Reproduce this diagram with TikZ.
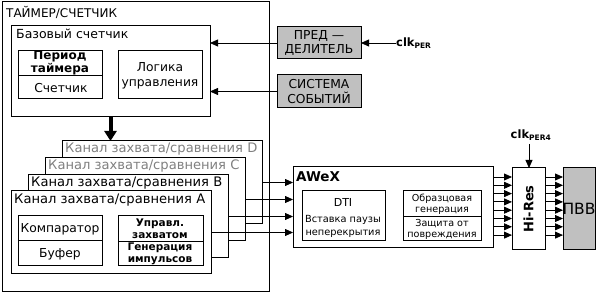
\documentclass[tikz,border=0pt]{standalone}
\usepackage{fontspec}
\setmainfont{DejaVu Sans}
\usetikzlibrary{arrows.meta}
\definecolor{boxgray}{HTML}{C0C0C0}
\definecolor{txtgray}{HTML}{808080}
\newcommand\myfs[2]{\fontsize{#1}{#2}\selectfont}
\begin{document}
\begin{tikzpicture}[x=1pt,y=-1pt,
  box/.style={draw, line width=1pt, anchor=north west, inner sep=0pt, outer sep=0pt, fill=white},
  gbox/.style={box, fill=boxgray},
  lbl/.style={anchor=base west, inner sep=0pt, font=\myfs{12.5}{13}},
  chl/.style={lbl, font=\myfs{13.1}{14}},
  ctext/.style={inner sep=0pt, align=center, font=\myfs{12.3}{13}},
  stext/.style={inner sep=0pt, align=center, font=\myfs{9.6}{11}},
  arr/.style={-{Triangle[length=8pt,width=7pt]}, line width=0.8pt},
  bigarr/.style={-{Triangle[length=10pt,width=12pt]}, line width=4pt}]
\useasboundingbox (0,0) rectangle (598,294);
% outer
\node[box, minimum width=267pt, minimum height=290pt] (outer) at (2,2) {};
\node[lbl, font=\myfs{12}{13}] (ttl) at (6,17.5) {ТАЙМЕР/СЧЕТЧИК};
% base counter
\node[box, minimum width=199pt, minimum height=91pt] (base) at (11,26) {};
\node[lbl] (basel) at (16,38.5) {Базовый счетчик};
\node[box, minimum width=84pt, minimum height=48pt] (per) at (18,51) {};
\draw[line width=1pt] (per.west |- 0,76) -- (per.east |- 0,76);
\node[ctext, font=\bfseries\myfs{12}{10.5}] (perl) at (60,63) {Период\\таймера};
\node[ctext] (cnt) at (61,88) {Счетчик};
\node[box, minimum width=84pt, minimum height=48pt] (logic) at (118,51) {};
\node[ctext, font=\myfs{12.3}{15}] (logl) at (160,76) {Логика\\управления};
% prescaler, event system
\node[gbox, minimum width=84pt, minimum height=32pt] (pred) at (277,27) {};
\node[ctext, font=\myfs{12.3}{13.5}] at (pred.center) {ПРЕД —\\ДЕЛИТЕЛЬ};
\node[gbox, minimum width=84pt, minimum height=33pt] (sys) at (277,75) {};
\node[ctext, font=\myfs{12.3}{15}] at (sys.center) {СИСТЕМА\\СОБЫТИЙ};
\node[anchor=west, inner sep=0pt, font=\bfseries\myfs{11.5}{12}] (clk) at (396,43) {clk\textsubscript{\myfs{7.5}{8}PER}};
\draw[arr] (clk.west) -- (clk.west -| pred.east);
\draw[arr] (pred.west) -- (pred.west -| base.east);
\draw[arr] (sys.west) -- (sys.west -| base.east);
% channels
\node[box, minimum width=200pt, minimum height=83pt] (D) at (62,141) {};
\node[chl, text=txtgray] at (65,153) {Канал захвата/сравнения D};
\node[box, minimum width=200pt, minimum height=83pt] (C) at (45,158) {};
\node[chl, text=txtgray] at (48,170) {Канал захвата/сравнения C};
\node[box, minimum width=200pt, minimum height=83pt] (B) at (28,175) {};
\node[chl] at (31,187) {Канал захвата/сравнения B};
\node[box, minimum width=200pt, minimum height=83pt] (A) at (11,191) {};
\node[chl] at (14,203.5) {Канал захвата/сравнения A};
\node[box, minimum width=84pt, minimum height=50pt] (comp) at (18,216) {};
\draw[line width=1pt] (comp.west |- 0,241) -- (comp.east |- 0,241);
\node[ctext] at (60,229) {Компаратор};
\node[ctext] at (60,254) {Буфер};
\node[box, minimum width=85pt, minimum height=50pt] (upr) at (118,216) {};
\draw[line width=1pt] (upr.west |- 0,242) -- (upr.east |- 0,242);
\node[stext, font=\bfseries\myfs{10.5}{12}] at (160,229) {Управл.\\захватом};
\node[stext, font=\bfseries\myfs{10.5}{12}] at (160,254) {Генерация\\импульсов};
\draw[bigarr] (base.south) -- (base.south |- D.north);
% AWeX
\node[box, minimum width=200pt, minimum height=81pt] (awex) at (293,167) {};
\node[lbl, font=\bfseries\myfs{13.5}{14}] at (296,182) {AWeX};
\node[box, minimum width=83pt, minimum height=50pt] (dti) at (302,191) {};
\node[stext, font=\myfs{11}{12}] at (343,202) {DTI};
\node[stext, font=\myfs{9.8}{13}] at (343,226) {Вставка паузы\\неперекрытия};
\node[box, minimum width=78pt, minimum height=50pt] (obr) at (403,191) {};
\draw[line width=1pt] (obr.west |- 0,217) -- (obr.east |- 0,217);
\node[stext] at (442,204) {Образцовая\\генерация};
\node[stext] at (442,229) {Защита от\\повреждения};
\foreach \n in {A,B,C,D} \draw[arr] (\n.east) -- (\n.east -| awex.west);
% Hi-Res, PVV
\node[box, minimum width=33pt, minimum height=82pt] (hires) at (512,168) {};
\node[inner sep=0pt, rotate=90, font=\bfseries\myfs{13}{14}] at (hires.center) {Hi-Res};
\node[gbox, minimum width=32pt, minimum height=82pt] (pvv) at (563,168) {};
\node[inner sep=0pt, font=\myfs{15.5}{16}] at (pvv.center) {ПВВ};
\node[anchor=south, inner sep=0pt, font=\bfseries\myfs{11.5}{12}] (clk4) at (531,141) {clk\textsubscript{\myfs{7.5}{8}PER4}};
\draw[arr] (529,144) coordinate (c4) -- (c4 |- hires.north);
\foreach \k in {0,...,7} {
  \draw[arr] (awex.east |- 0,{177+\k*8.3}) -- (hires.west |- 0,{177+\k*8.3});
  \draw[arr] (hires.east |- 0,{177+\k*8.3}) -- (pvv.west |- 0,{177+\k*8.3});
}
\end{tikzpicture}
\end{document}
